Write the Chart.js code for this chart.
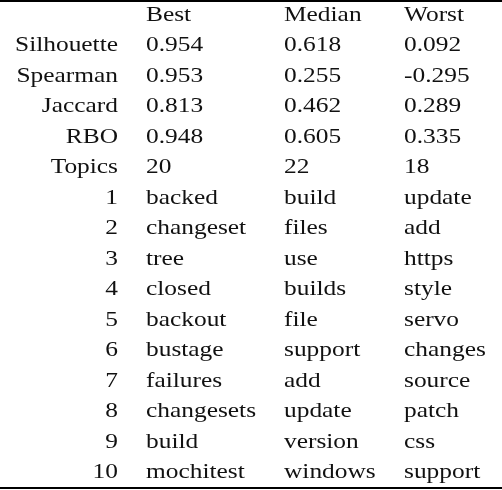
<!DOCTYPE html>
<html>
<head>
<meta charset="utf-8">
<script src="https://cdn.jsdelivr.net/npm/chart.js@4"></script>
<style>
  html, body { margin: 0; padding: 0; background: #fff; }
  #wrap { width: 502px; height: 490px; }
</style>
</head>
<body>
<div id="wrap"><canvas id="tableChart"></canvas></div>
<script>
"use strict";

const columns = ["Best", "Median", "Worst"];
const rowLabels = ["Silhouette", "Spearman", "Jaccard", "RBO", "Topics",
	"1", "2", "3", "4", "5", "6", "7", "8", "9", "10"];
const bestValues = ["0.954", "0.953", "0.813", "0.948", "20",
	"backed", "changeset", "tree", "closed", "backout", "bustage", "failures", "changesets", "build", "mochitest"];
const medianValues = ["0.618", "0.255", "0.462", "0.605", "22",
	"build", "files", "use", "builds", "file", "support", "add", "update", "version", "windows"];
const worstValues = ["0.092", "-0.295", "0.289", "0.335", "18",
	"update", "add", "https", "style", "servo", "changes", "source", "patch", "css", "support"];

const HEADER = "header";
const allRows = [HEADER].concat(rowLabels);
const colData = [bestValues, medianValues, worstValues];
// left edge of each value column, right edge of label column
const colX = [146, 284, 404];
const labelRight = 118;

const tablePlugin = {
	id: "tableText",
	afterDraw(chart) {
		const ctx = chart.ctx;
		const y = chart.scales.y;
		ctx.save();
		ctx.fillStyle = "#111";
		ctx.font = "21px 'Liberation Serif'";
		ctx.textBaseline = "middle";
		const sx = 103 / ctx.measureText("Silhouette").width;
		const put = (text, x, py, align) => {
			ctx.save();
			ctx.translate(x, py);
			ctx.scale(sx, 1);
			ctx.textAlign = align;
			ctx.fillText(text, 0, 0);
			ctx.restore();
		};
		const hy = y.getPixelForValue(0);
		columns.forEach((c, i) => put(c, colX[i], hy, "left"));
		rowLabels.forEach((lab, r) => {
			const py = y.getPixelForValue(r + 1);
			put(lab, labelRight, py, "right");
			colData.forEach((vals, i) => put(vals[r], colX[i], py, "left"));
		});
		ctx.fillStyle = "#000";
		ctx.fillRect(0, 0, chart.width, 2);
		ctx.fillRect(0, chart.height - 3, chart.width, 2);
		ctx.restore();
	}
};

new Chart(document.querySelector("#tableChart").getContext("2d"), {
	type: "scatter",
	data: { datasets: [{ data: [], showLine: false }] },
	options: {
		responsive: true,
		maintainAspectRatio: false,
		animation: false,
		layout: { padding: { top: 0, bottom: 2, left: 0, right: 0 } },
		plugins: { legend: { display: false }, tooltip: { enabled: false } },
		scales: {
			x: { type: "linear", display: false, min: 0, max: 1 },
			y: { type: "category", labels: allRows, offset: true, display: false }
		}
	},
	plugins: [tablePlugin]
});
</script>
</body>
</html>
